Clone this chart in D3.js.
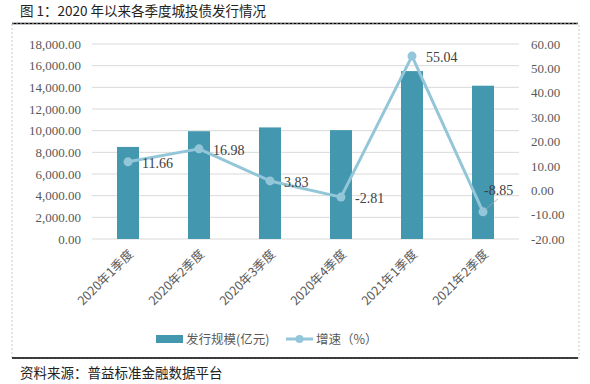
<!DOCTYPE html>
<html>
<head>
<meta charset="utf-8">
<script src="https://cdn.jsdelivr.net/npm/d3@7"></script>
<style>
  body { margin: 0; background: #fff; }
  svg { display: block; }
</style>
</head>
<body>
<div id="chart"></div>
<script>
const width = 590
const height = 384

// data
const quarters = ['2020年1季度', '2020年2季度', '2020年3季度', '2020年4季度', '2021年1季度', '2021年2季度']
const issuance = [8500, 9950, 10300, 10050, 15500, 14150]   // 发行规模(亿元)
const growth = [11.66, 16.98, 3.83, -2.81, 55.04, -8.85]     // 增速（%）
const leftTicks = [0, 2000, 4000, 6000, 8000, 10000, 12000, 14000, 16000, 18000]
const rightTicks = [-20, -10, 0, 10, 20, 30, 40, 50, 60]

const barColor = '#4398b0'
const lineColor = '#93c6d8'
const textColor = '#595959'
const serif = '"Liberation Serif", "Times New Roman", serif'
const cjk = '"Noto Sans CJK SC", sans-serif'

const svg = d3.select('#chart')
    .append('svg')
    .attr('width', width)
    .attr('height', height)

// title + rules
svg.append('text')
    .attr('x', 20).attr('y', 16)
    .attr('font-family', cjk)
    .attr('font-size', 13.5)
    .attr('fill', '#222')
    .text('图 1：2020 年以来各季度城投债发行情况')

svg.append('line')
    .attr('x1', 12).attr('x2', 578).attr('y1', 23.5).attr('y2', 23.5)
    .attr('stroke', '#000').attr('stroke-width', 1.3)

// dashed frame
svg.append('rect')
    .attr('x', 12).attr('y', 24).attr('width', 567).attr('height', 334)
    .attr('fill', 'none')
    .attr('stroke', '#c8c8c8')
    .attr('stroke-dasharray', '2,2')

svg.append('line')
    .attr('x1', 12).attr('x2', 578).attr('y1', 358).attr('y2', 358)
    .attr('stroke', '#000').attr('stroke-width', 1.3)

svg.append('text')
    .attr('x', 20).attr('y', 378)
    .attr('font-family', cjk)
    .attr('font-size', 13.5)
    .attr('fill', '#222')
    .text('资料来源：普益标准金融数据平台')

// scales
let x = d3.scaleBand()
    .domain(quarters)
    .range([92.5, 518.5])
    .paddingInner(0.69)
    .paddingOuter(0.345)

let yLeft = d3.scaleLinear().domain([0, 18000]).range([239, 44])
let yRight = d3.scaleLinear().domain([-20, 60]).range([239, 44])

// gridlines
svg.append('g')
    .selectAll('line')
    .data(leftTicks)
    .join('line')
    .attr('x1', 92).attr('x2', 519)
    .attr('y1', d => yLeft(d)).attr('y2', d => yLeft(d))
    .attr('stroke', '#d9d9d9')
    .attr('stroke-width', 1)

// left axis
let leftAxis = svg.append('g')
    .attr('transform', 'translate(92,0)')
    .call(d3.axisLeft(yLeft).tickValues(leftTicks).tickSize(0).tickPadding(11)
        .tickFormat(d3.format(',.2f')))
leftAxis.select('.domain').remove()
leftAxis.selectAll('text')
    .attr('font-family', serif).attr('font-size', 13).attr('fill', textColor)

// right axis
let rightAxis = svg.append('g')
    .attr('transform', 'translate(519,0)')
    .call(d3.axisRight(yRight).tickValues(rightTicks).tickSize(0).tickPadding(12)
        .tickFormat(d3.format('.2f')))
rightAxis.select('.domain').remove()
rightAxis.selectAll('text')
    .attr('font-family', serif).attr('font-size', 13).attr('fill', textColor)
    .text(d => d < 0 ? '-' + Math.abs(d).toFixed(2) : d.toFixed(2))

// bars
svg.append('g')
    .selectAll('rect')
    .data(issuance)
    .join('rect')
    .attr('x', (d, i) => x(quarters[i]))
    .attr('width', x.bandwidth())
    .attr('y', d => yLeft(d))
    .attr('height', d => yLeft(0) - yLeft(d))
    .attr('fill', barColor)

// category labels, rotated
svg.append('g')
    .selectAll('text')
    .data(quarters)
    .join('text')
    .attr('transform', d => `translate(${x(d) + x.bandwidth() / 2 + 6},${255}) rotate(-45)`)
    .attr('text-anchor', 'end')
    .attr('font-family', cjk)
    .attr('font-size', 12.5)
    .attr('fill', textColor)
    .text(d => d)

// growth line
let cx = (d, i) => x(quarters[i]) + x.bandwidth() / 2
let line = d3.line()
    .x((d, i) => cx(d, i))
    .y(d => yRight(d))

svg.append('path')
    .datum(growth)
    .attr('d', line)
    .attr('fill', 'none')
    .attr('stroke', lineColor)
    .attr('stroke-width', 3)
    .attr('stroke-linejoin', 'round')

svg.append('g')
    .selectAll('circle')
    .data(growth)
    .join('circle')
    .attr('cx', cx)
    .attr('cy', d => yRight(d))
    .attr('r', 4.5)
    .attr('fill', lineColor)

// data labels (last one sits above-right with a leader line)
let last = growth.length - 1
svg.append('line')
    .attr('x1', cx(growth[last], last) + 2).attr('y1', yRight(growth[last]) - 2)
    .attr('x2', cx(growth[last], last) + 15).attr('y2', yRight(growth[last]) - 13)
    .attr('stroke', '#a6a6a6').attr('stroke-width', 0.8)

svg.append('g')
    .selectAll('text')
    .data(growth)
    .join('text')
    .attr('x', (d, i) => i === last ? cx(d, i) + 1 : cx(d, i) + 14)
    .attr('y', (d, i) => i === last ? yRight(d) - 17 : yRight(d) + 6)
    .attr('font-family', serif)
    .attr('font-size', 14)
    .attr('fill', '#404040')
    .text(d => d.toFixed(2))

// legend
let legend = svg.append('g')
legend.append('rect')
    .attr('x', 156).attr('y', 335).attr('width', 27).attr('height', 8)
    .attr('fill', barColor)
legend.append('text')
    .attr('x', 186).attr('y', 344)
    .attr('font-family', cjk).attr('font-size', 12.5).attr('fill', textColor)
    .text('发行规模(亿元)')
legend.append('line')
    .attr('x1', 286).attr('x2', 313).attr('y1', 339).attr('y2', 339)
    .attr('stroke', lineColor).attr('stroke-width', 3)
legend.append('circle')
    .attr('cx', 299.5).attr('cy', 339).attr('r', 4)
    .attr('fill', lineColor)
legend.append('text')
    .attr('x', 316).attr('y', 344)
    .attr('font-family', cjk).attr('font-size', 12.5).attr('fill', textColor)
    .text('增速（%）')
</script>
</body>
</html>
